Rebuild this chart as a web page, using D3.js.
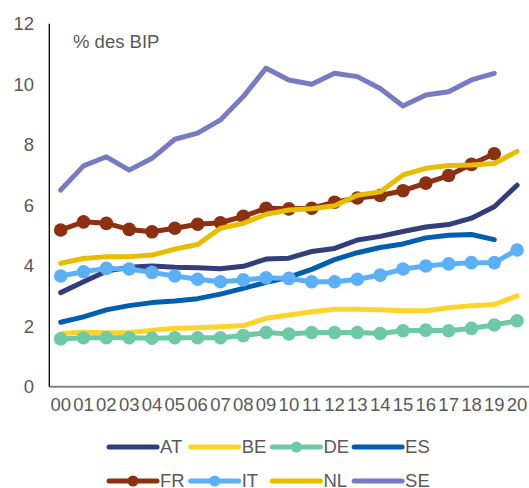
<!DOCTYPE html>
<html><head><meta charset="utf-8">
<script src="https://cdn.jsdelivr.net/npm/d3@7"></script>
<style>body{margin:0;background:#fff}svg{display:block;font-family:"Liberation Sans",Arial,sans-serif}</style>
</head><body>
<svg id="c" width="529" height="488"></svg>
<script>
const years = ["00","01","02","03","04","05","06","07","08","09","10","11","12","13","14","15","16","17","18","19","20"];
const yTicks = [0,2,4,6,8,10,12];
const AT = [3.11,3.47,3.82,3.95,3.99,3.95,3.93,3.9,3.98,4.22,4.25,4.47,4.57,4.85,4.97,5.13,5.28,5.36,5.57,5.95,6.66];
const BE = [1.76,1.8,1.78,1.78,1.87,1.93,1.95,1.98,2.02,2.26,2.37,2.48,2.56,2.56,2.54,2.51,2.51,2.61,2.68,2.72,3.0];
const DE = [1.58,1.62,1.62,1.62,1.6,1.62,1.62,1.62,1.69,1.79,1.74,1.79,1.79,1.79,1.76,1.85,1.87,1.85,1.93,2.04,2.18];
const ES = [2.13,2.31,2.54,2.68,2.78,2.83,2.91,3.06,3.25,3.45,3.62,3.88,4.2,4.43,4.6,4.72,4.92,5.01,5.03,4.86,null];
const FR = [5.18,5.45,5.4,5.2,5.12,5.24,5.37,5.42,5.63,5.9,5.88,5.9,6.1,6.24,6.32,6.48,6.73,6.98,7.35,7.7,null];
const IT = [3.66,3.8,3.91,3.89,3.78,3.66,3.55,3.47,3.53,3.6,3.58,3.47,3.47,3.55,3.69,3.89,3.99,4.06,4.1,4.1,4.52];
const NL = [4.08,4.24,4.3,4.3,4.35,4.55,4.7,5.24,5.4,5.7,5.84,5.88,5.98,6.33,6.44,7.0,7.22,7.31,7.33,7.38,7.78];
const SE = [6.5,7.3,7.6,7.16,7.55,8.18,8.38,8.82,9.59,10.53,10.14,10.0,10.36,10.25,9.86,9.28,9.64,9.75,10.14,10.36,null];

const series = [
  {name:"AT", values:AT, color:"#333d79", marker:false},
  {name:"BE", values:BE, color:"#ffd42a", marker:false},
  {name:"DE", values:DE, color:"#6dc9a6", marker:true},
  {name:"ES", values:ES, color:"#005eb0", marker:false},
  {name:"FR", values:FR, color:"#8b3112", marker:true},
  {name:"IT", values:IT, color:"#5cb0f8", marker:true},
  {name:"NL", values:NL, color:"#e8bd00", marker:false},
  {name:"SE", values:SE, color:"#767bc3", marker:false}
];

const svg = d3.select("#c");
const pLeft = 49.3, pRight = 528.5, pTop = 23.7, pBottom = 386.7;
const x = d3.scalePoint().domain(years).range([pLeft, pRight]).padding(0.5);
const y = d3.scaleLinear().domain([0,12]).range([pBottom, pTop]);
const txt = "#595959";

// y tick labels
svg.append("g").selectAll("text").data(yTicks).join("text")
  .attr("x", 34).attr("y", d => y(d)).attr("dy","0.35em")
  .attr("text-anchor","end").attr("font-size","18.5px").attr("fill",txt).text(d => d);

// x tick labels
svg.append("g").selectAll("text").data(years).join("text")
  .attr("x", d => x(d)).attr("y", 405).attr("dy","0.35em")
  .attr("text-anchor","middle").attr("font-size","18.5px").attr("fill",txt).text(d => d);

// axes lines
svg.append("line").attr("x1",pLeft).attr("x2",529).attr("y1",pBottom).attr("y2",pBottom)
  .attr("stroke","#868686").attr("stroke-width",2);
svg.append("line").attr("x1",pLeft).attr("x2",pLeft).attr("y1",pTop).attr("y2",pBottom)
  .attr("stroke","#000").attr("stroke-width",1.3);

// unit label
svg.append("text").attr("x",73).attr("y",42).attr("dy","0.35em")
  .attr("font-size","18.5px").attr("fill",txt).text("% des BIP");

const line = d3.line().defined(d => d != null).x((d,i) => x(years[i])).y(d => y(d));

series.forEach(s => {
  const g = svg.append("g");
  g.append("path").datum(s.values).attr("d", line).attr("fill","none")
    .attr("stroke", s.color).attr("stroke-width",5).attr("stroke-linejoin","round").attr("stroke-linecap","round");
  if (s.marker) {
    g.selectAll("circle").data(s.values.map((v,i)=>({v,i})).filter(d=>d.v!=null)).join("circle")
      .attr("cx", d => x(years[d.i])).attr("cy", d => y(d.v)).attr("r",6.8).attr("fill", s.color);
  }
});

// legend
const legX = [109, 190.7, 272.4, 354.1];
const legY = [447, 481];
series.forEach((s,k) => {
  const lx = legX[k % 4], ly = legY[Math.floor(k/4)];
  const g = svg.append("g");
  g.append("line").attr("x1",lx).attr("x2",lx+48).attr("y1",ly).attr("y2",ly)
    .attr("stroke",s.color).attr("stroke-width",5).attr("stroke-linecap","round");
  if (s.marker) g.append("circle").attr("cx",lx+24).attr("cy",ly).attr("r",5.5).attr("fill",s.color);
  g.append("text").attr("x",lx+51).attr("y",ly).attr("dy","0.35em")
    .attr("font-size","18.5px").attr("fill",txt).text(s.name);
});
</script>
</body></html>
